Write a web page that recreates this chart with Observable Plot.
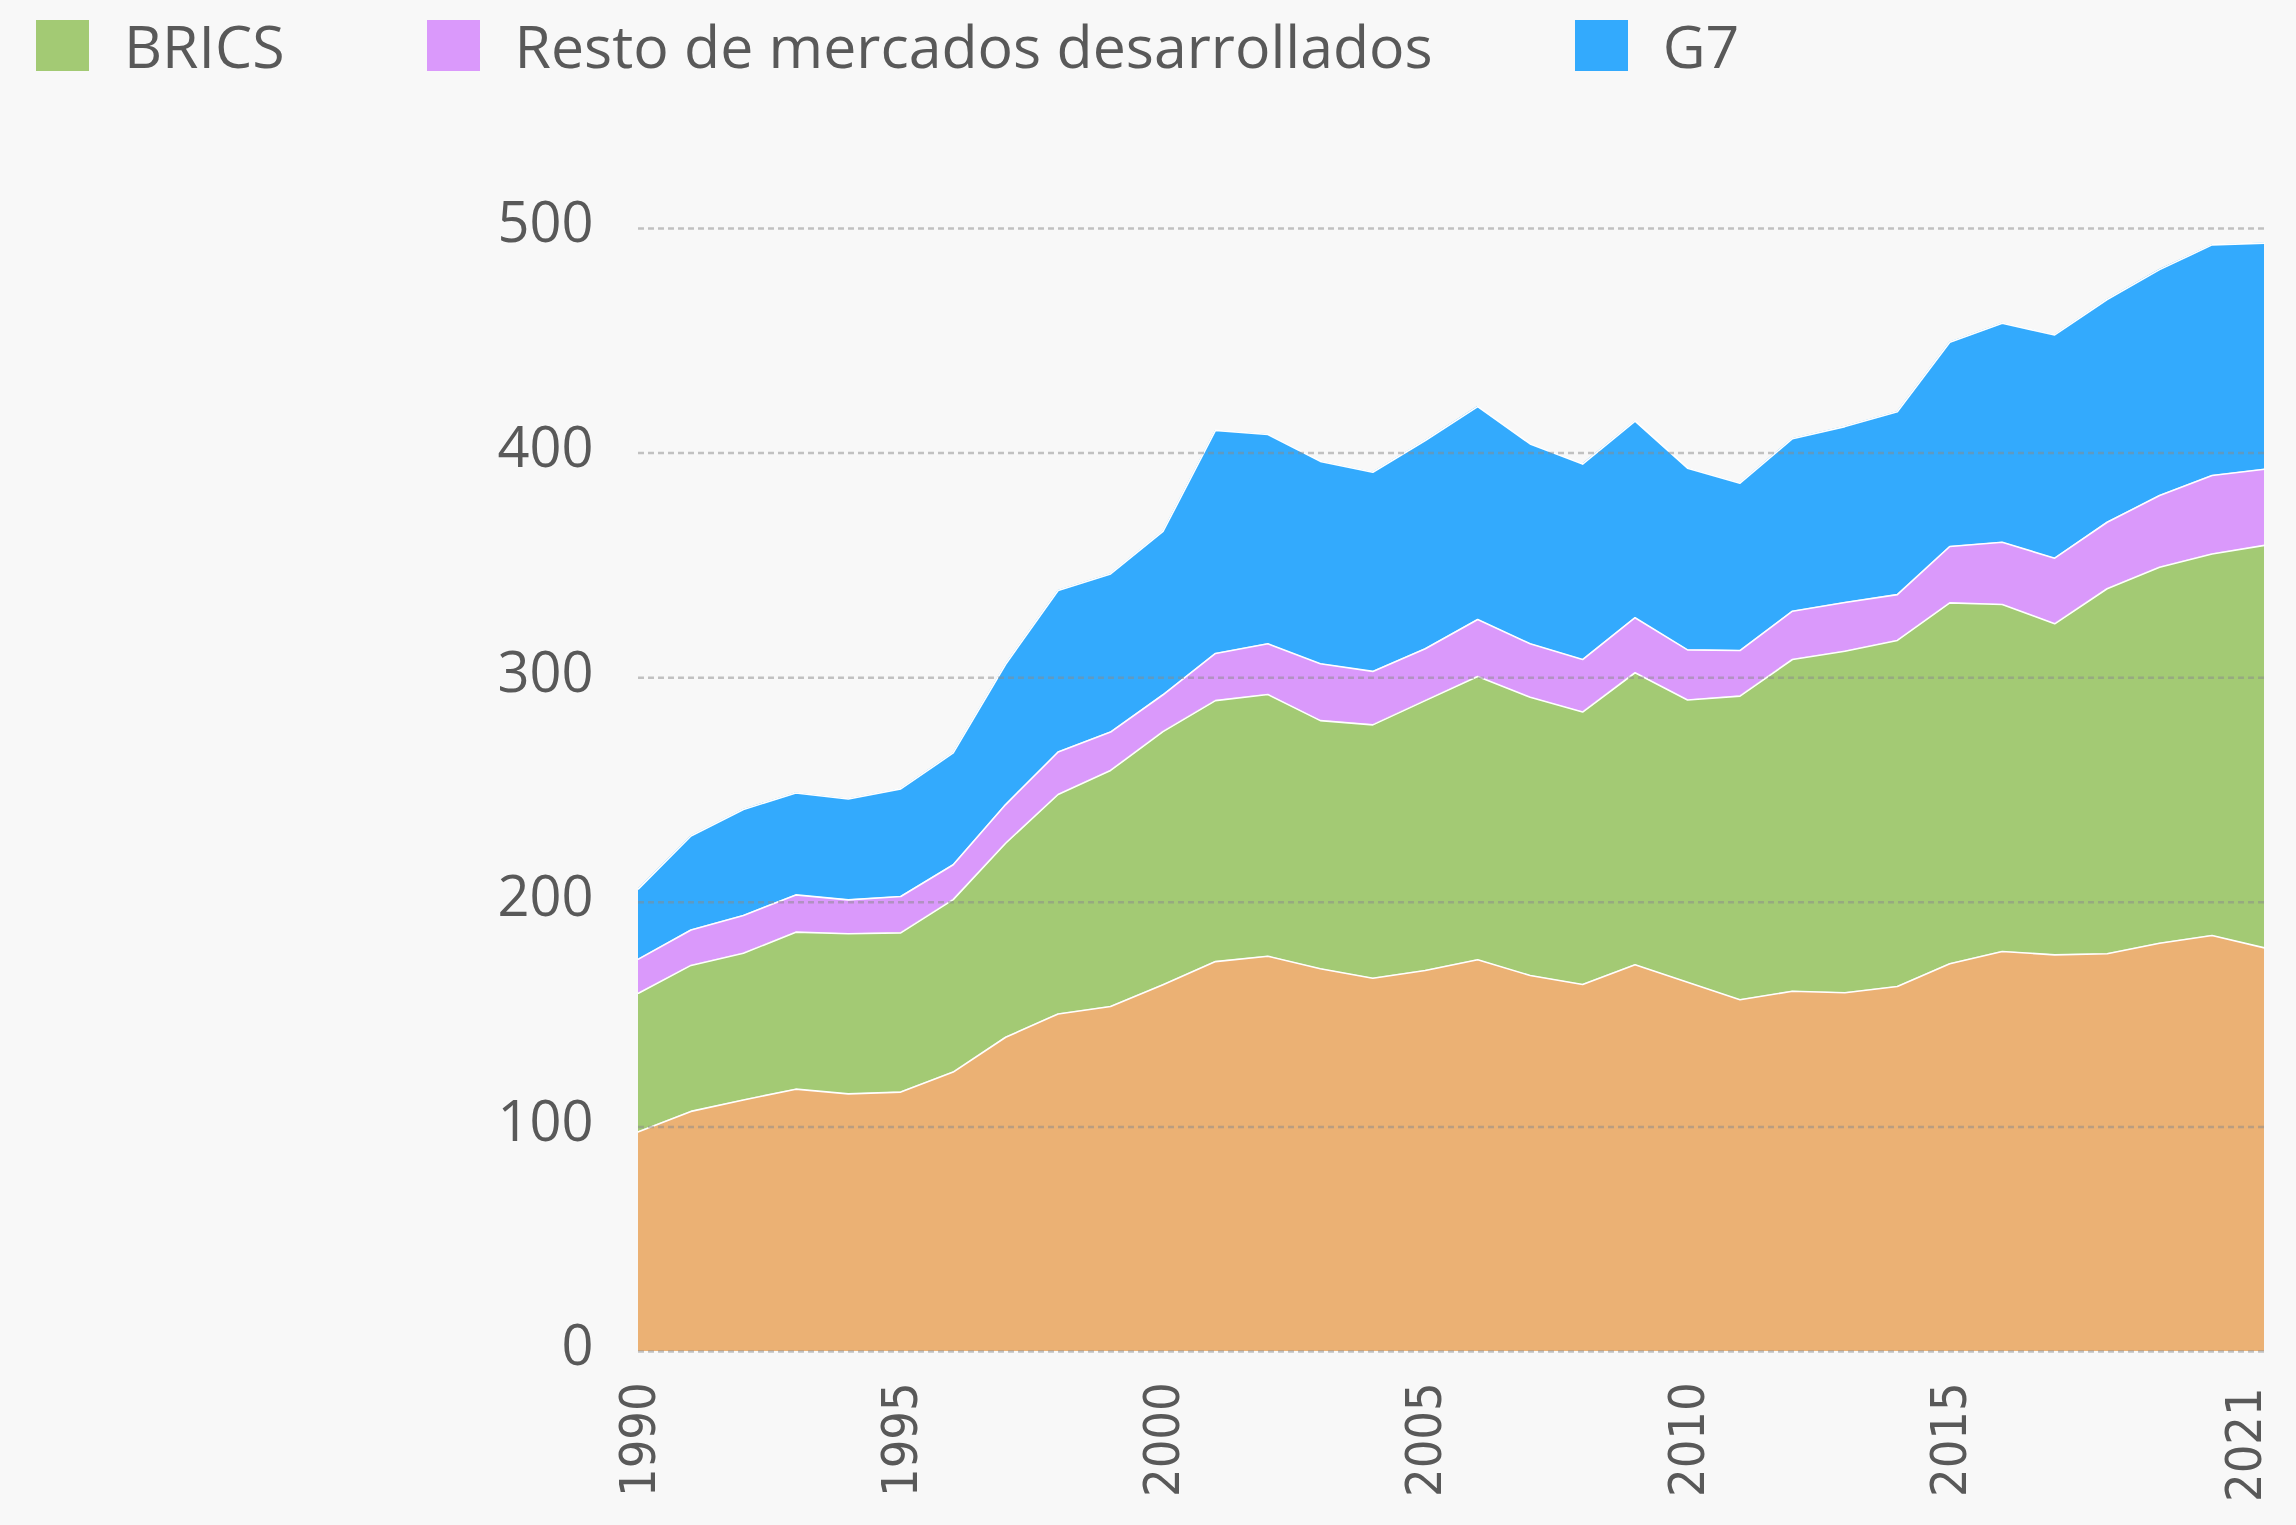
<!DOCTYPE html>
<html>
<head>
<meta charset="utf-8">
<script src="https://cdn.jsdelivr.net/npm/d3@7"></script>
<script src="https://cdn.jsdelivr.net/npm/@observablehq/plot@0.6"></script>
<style>
  html, body { margin: 0; padding: 0; background: #f8f8f8; }
  body { width: 2296px; height: 1525px; overflow: hidden; font-family: "Open Sans", sans-serif; }
  #legend { height: 90px; display: flex; align-items: center; padding-left: 36px; box-sizing: border-box; }
  .item { display: flex; align-items: center; margin-right: 142px; }
  .sw { width: 53px; height: 51px; margin-right: 35px; }
  .lab { font-size: 59px; line-height: 1; color: #595959; white-space: nowrap; }
</style>
</head>
<body>
<div id="legend"></div>
<div id="chart"></div>
<script>
// ---- data ----
const years = [1990,1991,1992,1993,1994,1995,1996,1997,1998,1999,2000,2001,2002,2003,2004,2005,
               2006,2007,2008,2009,2010,2011,2012,2013,2014,2015,2016,2017,2018,2019,2020,2021];

const otros = [97.8,106.9,112.0,116.8,114.7,115.5,124.4,139.9,150.3,153.6,163.3,173.6,176.0,170.4,166.2,169.6,
               174.4,167.4,163.4,172.2,164.4,156.6,160.4,159.7,162.5,172.6,178.1,176.6,177.1,181.8,185.2,179.7];

const brics = [61.7,65.0,65.3,69.9,71.3,70.9,76.8,86.4,97.7,105.1,112.7,116.2,116.5,110.5,112.8,120.2,
               126.1,123.9,121.3,130.0,125.7,135.2,147.7,152.1,154.1,160.7,154.5,147.4,162.5,167.4,169.9,179.2];

const restoDesarrollados = [15.2,15.8,16.8,16.6,15.1,16.2,15.5,17.2,18.9,17.1,16.4,21.0,22.6,25.3,23.8,23.1,
               25.4,23.8,23.4,24.5,22.3,20.3,21.5,21.7,20.4,25.1,27.7,29.2,29.6,31.9,34.9,33.9];

const g7 = [31.3,41.8,47.2,45.4,44.9,47.9,49.8,62.5,71.9,70.4,72.7,99.3,93.2,90.1,88.7,92.7,
            94.8,89.0,87.0,87.5,80.9,74.5,76.8,78.3,81.4,91.0,97.5,99.4,99.2,100.6,102.7,100.7];

const seriesNames = ["Otros", "BRICS", "Resto de mercados desarrollados", "G7"];
const seriesColors = ["#ebb174", "#a3ca74", "#da99fb", "#33aafd"];
const legendNames = ["BRICS", "Resto de mercados desarrollados", "G7"];

const yTicks = [0, 100, 200, 300, 400, 500];
const xTicks = [1990, 1995, 2000, 2005, 2010, 2015];
const xLastTick = [2021];

// ---- table ----
const seriesValues = [otros, brics, restoDesarrollados, g7];
const table = years.flatMap((yr, i) =>
  seriesNames.map((name, k) => ({year: yr, serie: name, value: seriesValues[k][i]})));

// ---- legend ----
const legend = document.getElementById("legend");
legendNames.forEach(name => {
  const it = document.createElement("div");
  it.className = "item";
  const sw = document.createElement("div");
  sw.className = "sw";
  sw.style.background = seriesColors[seriesNames.indexOf(name)];
  const lab = document.createElement("span");
  lab.className = "lab";
  lab.textContent = name;
  it.appendChild(sw); it.appendChild(lab);
  legend.appendChild(it);
});

// ---- chart ----
const xFont = "'DejaVu Sans Condensed', 'DejaVu Sans', sans-serif";
const chart = Plot.plot({
  width: 2296,
  height: 1435,
  marginLeft: 638,
  marginRight: 32,
  marginTop: 138,
  marginBottom: 174,
  style: {background: "#f8f8f8", color: "#595959", fontFamily: "'Open Sans', sans-serif", overflow: "visible"},
  x: {type: "linear", domain: [1990, 2021], label: null},
  y: {domain: [0, 500], label: null},
  color: {domain: seriesNames, range: seriesColors},
  marks: [
    Plot.areaY(table, Plot.stackY({order: seriesNames}, {x: "year", y: "value", z: "serie", fill: "serie"})),
    Plot.lineY(table, Plot.stackY2({order: seriesNames}, {x: "year", y: "value", z: "serie", stroke: "#ffffff", strokeWidth: 1.6})),
    Plot.ruleY(yTicks, {stroke: "#8a8a8a", strokeOpacity: 0.5, strokeWidth: 2.5, strokeDasharray: "6,4"}),
    Plot.axisY({ticks: yTicks, tickSize: 0, tickPadding: 45, fontSize: 56, dy: -4, tickFormat: d => String(d)}),
    Plot.axisX({ticks: xTicks, tickSize: 0, tickPadding: 31, tickRotate: -90, fontSize: 50,
                fontFamily: xFont, tickFormat: d => String(d)}),
    Plot.axisX({ticks: xLastTick, tickSize: 0, tickPadding: 36, tickRotate: -90, fontSize: 50, dx: -20,
                fontFamily: xFont, tickFormat: d => String(d)})
  ]
});
document.getElementById("chart").appendChild(chart);
</script>
</body>
</html>
